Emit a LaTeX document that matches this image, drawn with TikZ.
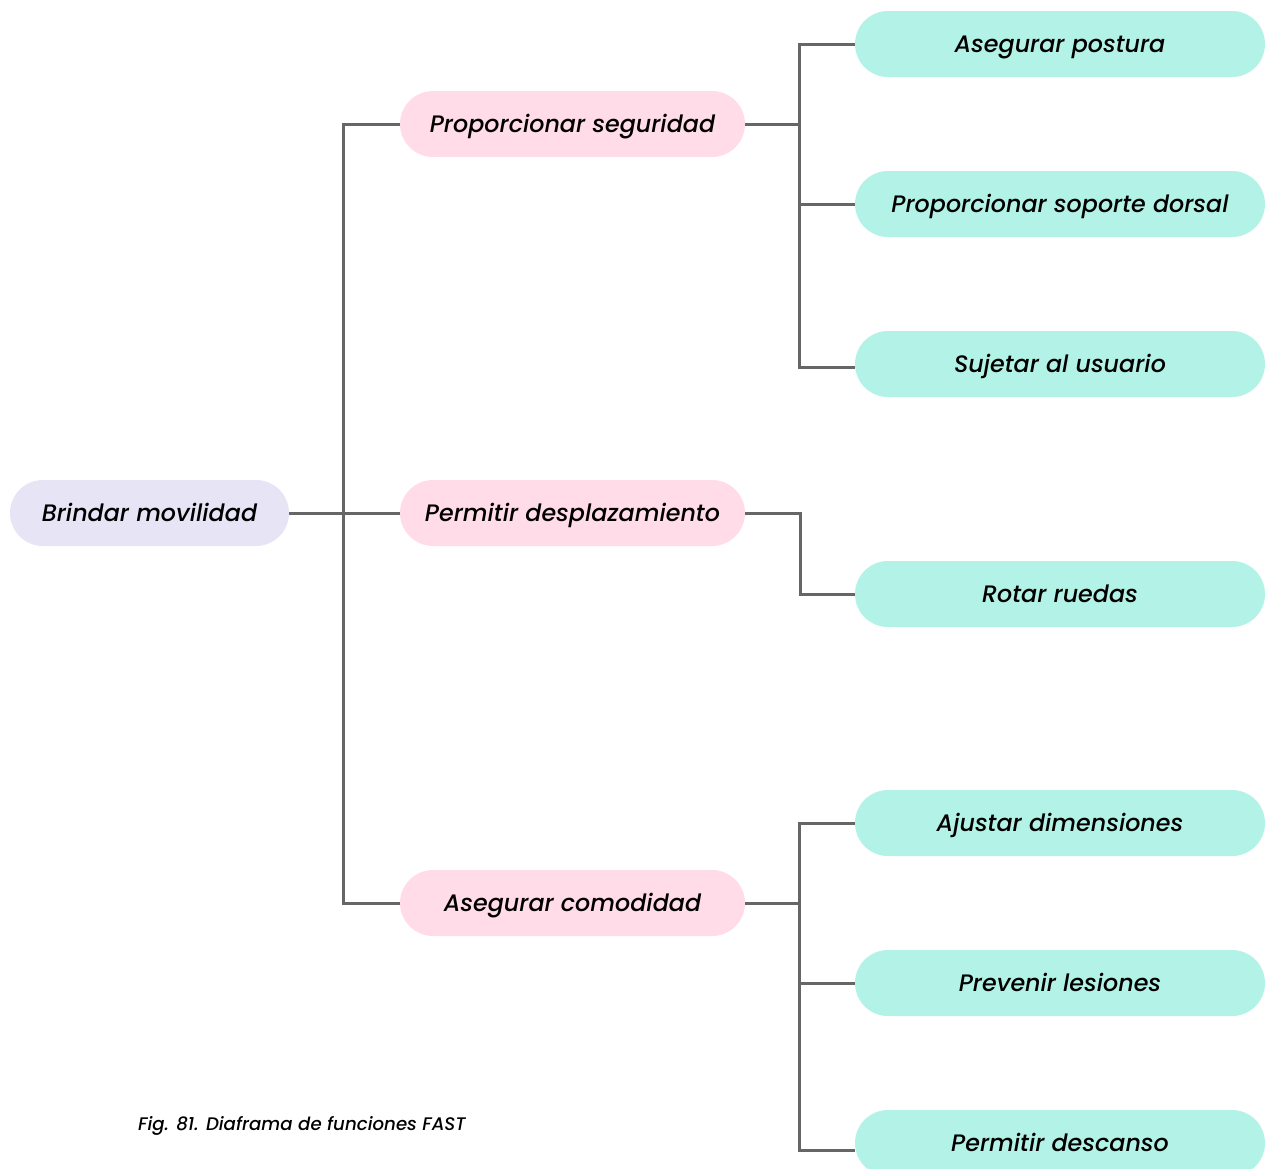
\documentclass[tikz,border=0pt]{standalone}
\usepackage{fontspec}
\setmainfont{Poppins}[ItalicFont={Poppins Medium Italic}]
\begin{document}
\begin{tikzpicture}[x=1pt,y=-1pt,
  box/.style={rounded corners=33pt, minimum height=66pt, inner sep=0pt, text height=17pt, text depth=0pt, font=\fontsize{23.8}{28}\selectfont\itshape, text=black},
  rootbox/.style={box, fill=lav, minimum width=279pt},
  midbox/.style={box, fill=pinkc, minimum width=345pt},
  leafbox/.style={box, fill=teal, minimum width=410pt},
  conn/.style={draw=linec, line width=3pt}]
\definecolor{lav}{HTML}{E6E4F5}
\definecolor{pinkc}{HTML}{FFDCE8}
\definecolor{teal}{HTML}{B3F2E6}
\definecolor{linec}{HTML}{666666}
\useasboundingbox (0,0) rectangle (1266,1168);
\node[rootbox] (root) at (149.5,513) {Brindar movilidad};
\node[midbox] (p1) at (572.5,124) {Proporcionar seguridad};
\node[midbox] (p2) at (572.5,513) {Permitir desplazamiento};
\node[midbox] (p3) at (572.5,903) {Asegurar comodidad};
\node[leafbox] (t1) at (1060,44) {Asegurar postura};
\node[leafbox] (t2) at (1060,204) {Proporcionar soporte dorsal};
\node[leafbox] (t3) at (1060,364) {Sujetar al usuario};
\node[leafbox] (t4) at (1060,594) {Rotar ruedas};
\node[leafbox] (t5) at (1060,823) {Ajustar dimensiones};
\node[leafbox] (t6) at (1060,983) {Prevenir lesiones};
\node[leafbox] (t7) at (1060,1143) {Permitir descanso};
\node[anchor=west, font=\fontsize{18.2}{21}\selectfont\itshape, inner sep=0pt] (cap) at (138,1126) {Fig. 81. Diaframa de funciones FAST};
% trunk
\draw[conn] (root.east) -- (p2.west);
\draw[conn] (p1.west) -- ++(-56,0) |- (p3.west);
% group 1
\draw[conn] (p1.east) -- ++(55,0);
\draw[conn] (t1.west) -- ++(-55,0) |- ([yshift=-3pt]t3.west);
\draw[conn] (t2.west) -- ++(-55,0);
% group 2
\draw[conn] (p2.east) -- ++(55,0) |- (t4.west);
% group 3
\draw[conn] (p3.east) -- ++(55,0);
\draw[conn] (t5.west) -- ++(-55,0) |- ([yshift=-7pt]t7.west);
\draw[conn] (t6.west) -- ++(-55,0);
\end{tikzpicture}
\end{document}
